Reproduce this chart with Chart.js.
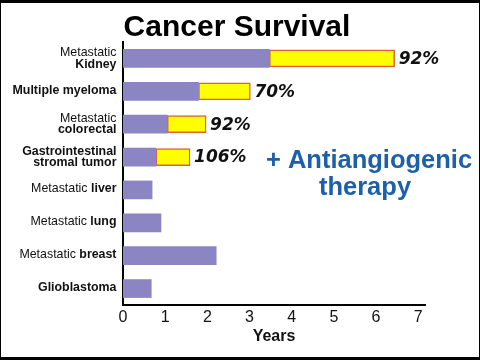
<!DOCTYPE html>
<html>
<head>
<meta charset="utf-8">
<script src="https://cdn.jsdelivr.net/npm/chart.js@4.4.1/dist/chart.umd.min.js"></script>
<style>
html,body{margin:0;padding:0;background:#fff;}
#wrap{width:480px;height:360px;position:relative;}
</style>
</head>
<body>
<div id="wrap"><canvas id="c" width="480" height="360"></canvas></div>
<script>
// ---- data ----
const categories = ["Metastatic Kidney","Multiple myeloma","Metastatic colorectal","Gastrointestinal stromal tumor","Metastatic liver","Metastatic lung","Metastatic breast","Glioblastoma"];
// label lines, each line is a list of [text, bold]
const categoryLabelLines = [
  [[["Metastatic",false]],[["Kidney",true]]],
  [[["Multiple myeloma",true]]],
  [[["Metastatic",false]],[["colorectal",true]]],
  [[["Gastrointestinal",true]],[["stromal tumor",true]]],
  [[["Metastatic ",false],["liver",true]]],
  [[["Metastatic ",false],["lung",true]]],
  [[["Metastatic ",false],["breast",true]]],
  [[["Glioblastoma",true]]]
];
const survivalYears = [3.47, 1.79, 1.05, 0.78, 0.69, 0.90, 2.21, 0.67];
const withTherapyYears = [6.44, 3.02, 1.97, 1.59, null, null, null, null];
const increaseLabels = ["92%", "70%", "92%", "106%", null, null, null, null];
const xTickValues = [0,1,2,3,4,5,6,7];
const chartTitle = "Cancer Survival";
const axisTitle = "Years";
const noteLines = ["+ Antiangiogenic", "therapy"];

const extraYears = withTherapyYears.map((t,i)=> t==null ? null : +(t - survivalYears[i]).toFixed(2));
const FONT = "'Liberation Sans', Arial, Helvetica, sans-serif";

const textPlugin = {
  id:'texts',
  afterDraw(chart){
    const ctx = chart.ctx;
    const ys = chart.scales.y;
    ctx.save();
    // title
    ctx.fillStyle = '#000';
    ctx.font = "bold 30px " + FONT;
    ctx.textAlign = 'center';
    ctx.textBaseline = 'alphabetic';
    ctx.fillText(chartTitle, 237, 36);
    // category labels
    ctx.textBaseline = 'middle';
    ctx.textAlign = 'left';
    const rightX = 116.5, lh = 11.5;
    categoryLabelLines.forEach((lines, i)=>{
      const cy = ys.getPixelForValue(i);
      const n = lines.length;
      lines.forEach((segs, li)=>{
        const y = cy + (li - (n-1)/2) * lh + (n===1 ? -1 : 0);
        let w = 0;
        segs.forEach(s=>{ ctx.font = (s[1]?'bold ':'') + "12.4px " + FONT; w += ctx.measureText(s[0]).width; });
        let x = rightX - w;
        segs.forEach(s=>{
          ctx.font = (s[1]?'bold ':'') + "12.4px " + FONT;
          ctx.fillStyle = '#111';
          ctx.fillText(s[0], x, y);
          x += ctx.measureText(s[0]).width;
        });
      });
    });
    // increase labels
    const meta = chart.getDatasetMeta(1);
    ctx.font = "italic bold 17px 'DejaVu Sans', Verdana, sans-serif";
    ctx.fillStyle = '#111';
    ctx.textBaseline = 'middle';
    increaseLabels.forEach((lab,i)=>{
      if(!lab) return;
      const el = meta.data[i];
      ctx.fillText(lab, el.x + 4, el.y + 1);
    });
    // note
    ctx.fillStyle = '#1b60a9';
    ctx.font = "bold 25.5px " + FONT;
    ctx.textAlign = 'center';
    ctx.textBaseline = 'alphabetic';
    ctx.fillText(noteLines[0], 369, 168);
    ctx.fillText(noteLines[1], 365, 195);
    // frame
    ctx.fillStyle = '#000';
    ctx.fillRect(0,0,480,3);
    ctx.fillRect(0,357,480,3);
    ctx.fillRect(0,0,1,360);
    ctx.fillRect(479,0,1,360);
    ctx.restore();
  }
};

new Chart(document.getElementById('c'), {
  type:'bar',
  data:{
    labels: categories,
    datasets:[
      {label:'Survival', data: survivalYears, backgroundColor:'#8b85c3', borderWidth:0, barThickness:18, stack:'s'},
      {label:'With therapy', data: extraYears, backgroundColor:'#ffff00', borderColor:'#e0603a', borderWidth:1.5, borderSkipped:false, barThickness:17, stack:'s'}
    ]
  },
  options:{
    indexAxis:'y',
    responsive:false,
    animation:false,
    devicePixelRatio:1,
    layout:{padding:{left:123, right:55, top:42, bottom:0}},
    plugins:{legend:{display:false}, tooltip:{enabled:false}, title:{display:false}},
    scales:{
      x:{
        type:'linear', min:0, max:7.16, stacked:true,
        afterBuildTicks(s){ s.ticks = xTickValues.map(v=>({value:v})); },
        grid:{display:false, drawTicks:false},
        border:{display:true, color:'#000', width:2},
        ticks:{font:{family:FONT, size:16}, color:'#111', padding:3, autoSkip:false, maxRotation:0},
        title:{display:true, text:axisTitle, font:{family:FONT, size:16, weight:'bold'}, color:'#111', padding:{top:0, bottom:14}},
        afterFit(s){ s.height = 55; }
      },
      y:{
        stacked:true,
        grid:{display:false, drawTicks:false},
        border:{display:true, color:'#000', width:2},
        ticks:{display:false},
        afterFit(s){ s.width = 0; }
      }
    }
  },
  plugins:[textPlugin]
});
</script>
</body>
</html>
